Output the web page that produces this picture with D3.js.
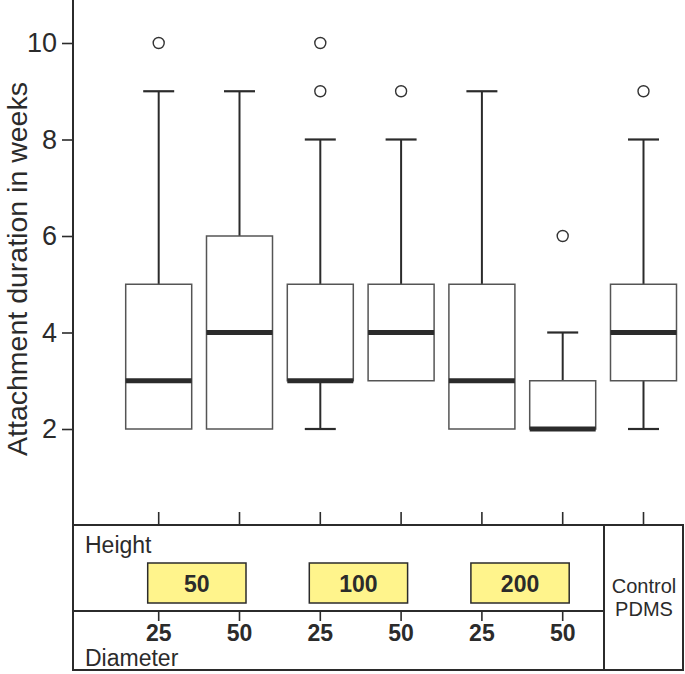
<!DOCTYPE html>
<html><head><meta charset="utf-8">
<script src="https://cdn.jsdelivr.net/npm/d3@7"></script>
<style>body{margin:0;background:#fff}svg{display:block}text{font-family:"Liberation Sans",Arial,sans-serif;fill:#2b2b2b}</style>
</head><body>
<svg id="c" width="685" height="674"></svg>
<script>
const groups = ["H50-D25","H50-D50","H100-D25","H100-D50","H200-D25","H200-D50","Control"];
const whiskerLow  = [2, 2, 2, 3, 2, 2, 2];
const q1          = [2, 2, 3, 3, 2, 2, 3];
const median      = [3, 4, 3, 4, 3, 2, 4];
const q3          = [5, 6, 5, 5, 5, 3, 5];
const whiskerHigh = [9, 9, 8, 8, 9, 4, 8];
const outliers    = [[10], [], [10, 9], [9], [], [6], [9]];
const yTicks = [2, 4, 6, 8, 10];
const heightLabels = ["50", "100", "200"];
const diameterLabels = ["25", "50", "25", "50", "25", "50"];

const svg = d3.select("#c");
const axisX = 73, panelTop = 525, midLine = 611, panelBottom = 670, panelRight = 683, divider = 604;
const y = d3.scaleLinear().domain([0, 10]).range([525.5, 43]);
const x = d3.scalePoint().domain(groups).range([158.7, 643.5]);
const boxW = 66, capW = 31;
const ink = "#2b2b2b";

// y axis
const yAxis = d3.axisLeft(y).tickValues(yTicks).tickSize(11).tickPadding(5).tickFormat(d3.format("d"));
const gy = svg.append("g").attr("transform", `translate(${axisX},0)`).call(yAxis);
gy.select(".domain").remove();
gy.selectAll(".tick line").attr("stroke", ink).attr("stroke-width", 1.6);
gy.selectAll(".tick text").attr("font-size", 27).style("fill", ink).attr("font-family", "Liberation Sans, Arial, sans-serif");
svg.append("line").attr("x1", axisX).attr("x2", axisX).attr("y1", 0).attr("y2", panelTop).attr("stroke", ink).attr("stroke-width", 2);

svg.append("text").attr("transform", "translate(27,269) rotate(-90)").attr("text-anchor", "middle")
  .attr("font-size", 28.5).text("Attachment duration in weeks");

// boxes
const g = svg.append("g");
groups.forEach((k, i) => {
  const cx = x(k);
  if (whiskerHigh[i] > q3[i]) {
    g.append("line").attr("x1", cx).attr("x2", cx).attr("y1", y(q3[i])).attr("y2", y(whiskerHigh[i])).attr("stroke", ink).attr("stroke-width", 2);
  }
  g.append("line").attr("x1", cx - capW/2).attr("x2", cx + capW/2).attr("y1", y(whiskerHigh[i])).attr("y2", y(whiskerHigh[i])).attr("stroke", ink).attr("stroke-width", 2.2);
  if (whiskerLow[i] < q1[i]) {
    g.append("line").attr("x1", cx).attr("x2", cx).attr("y1", y(q1[i])).attr("y2", y(whiskerLow[i])).attr("stroke", ink).attr("stroke-width", 2);
    g.append("line").attr("x1", cx - capW/2).attr("x2", cx + capW/2).attr("y1", y(whiskerLow[i])).attr("y2", y(whiskerLow[i])).attr("stroke", ink).attr("stroke-width", 2.2);
  }
  g.append("rect").attr("x", cx - boxW/2).attr("y", y(q3[i])).attr("width", boxW).attr("height", y(q1[i]) - y(q3[i]))
    .attr("fill", "#fff").attr("stroke", "#555").attr("stroke-width", 1.5);
  g.append("line").attr("x1", cx - boxW/2).attr("x2", cx + boxW/2).attr("y1", y(median[i])).attr("y2", y(median[i])).attr("stroke", ink).attr("stroke-width", 5);
  outliers[i].forEach(v => {
    g.append("circle").attr("cx", cx).attr("cy", y(v)).attr("r", 5.5).attr("fill", "#fff").attr("stroke", "#333").attr("stroke-width", 1.4);
  });
  g.append("line").attr("x1", cx).attr("x2", cx).attr("y1", panelTop - 13).attr("y2", panelTop).attr("stroke", ink).attr("stroke-width", 1.6);
  if (i < 6) g.append("line").attr("x1", cx).attr("x2", cx).attr("y1", midLine).attr("y2", midLine + 10).attr("stroke", ink).attr("stroke-width", 1.6);
});

// bottom panel
svg.append("rect").attr("x", axisX).attr("y", panelTop).attr("width", panelRight - axisX).attr("height", panelBottom - panelTop)
  .attr("fill", "none").attr("stroke", ink).attr("stroke-width", 2);
svg.append("line").attr("x1", divider).attr("x2", divider).attr("y1", panelTop).attr("y2", panelBottom).attr("stroke", ink).attr("stroke-width", 2);
svg.append("line").attr("x1", axisX).attr("x2", divider).attr("y1", midLine).attr("y2", midLine).attr("stroke", ink).attr("stroke-width", 2);

svg.append("text").attr("x", 85).attr("y", 553).attr("font-size", 23).text("Height");
svg.append("text").attr("x", 85).attr("y", 666).attr("font-size", 23).text("Diameter");

heightLabels.forEach((t, j) => {
  const a = x(groups[2*j]), b = x(groups[2*j+1]);
  const left = a - 11, right = b + 6.5;
  svg.append("rect").attr("x", left).attr("y", 563).attr("width", right - left).attr("height", 40)
    .attr("fill", "#fff48c").attr("stroke", ink).attr("stroke-width", 1.5);
  svg.append("text").attr("x", (left + right)/2).attr("y", 591.5).attr("text-anchor", "middle")
    .attr("font-size", 23).attr("font-weight", "bold").text(t);
});
diameterLabels.forEach((t, i) => {
  svg.append("text").attr("x", x(groups[i])).attr("y", 640.5).attr("text-anchor", "middle")
    .attr("font-size", 23).attr("font-weight", "bold").text(t);
});
svg.append("text").attr("x", 644).attr("y", 593).attr("text-anchor", "middle").attr("font-size", 20).text("Control");
svg.append("text").attr("x", 644).attr("y", 616).attr("text-anchor", "middle").attr("font-size", 20).text("PDMS");
</script>
</body></html>
